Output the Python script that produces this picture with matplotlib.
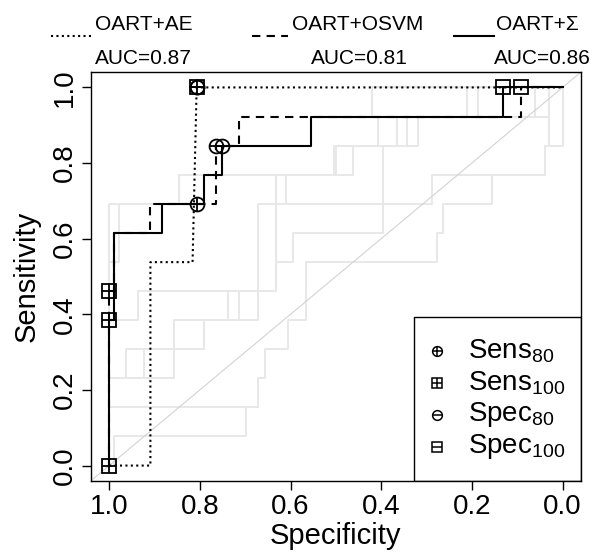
import matplotlib
matplotlib.use('Agg')
from matplotlib import pyplot
from matplotlib.lines import Line2D
from matplotlib.patches import Rectangle

pyplot.rcParams['font.family'] = ['Liberation Sans', 'DejaVu Sans']
pyplot.rcParams['mathtext.fontset'] = 'custom'
pyplot.rcParams['mathtext.rm'] = 'Liberation Sans'
pyplot.rcParams['mathtext.it'] = 'Liberation Sans'
pyplot.rcParams['mathtext.bf'] = 'Liberation Sans'

# ROC step curves (specificity, sensitivity)
ae_spec = [1.0, 0.909, 0.909, 0.816, 0.807, 0.0]
ae_sens = [0.0, 0.0, 0.538, 0.538, 1.0, 1.0]

osvm_spec = [1.0, 1.0, 0.989, 0.989, 0.909, 0.909, 0.764, 0.764, 0.713, 0.713, 0.092, 0.092, 0.0]
osvm_sens = [0.0, 0.462, 0.462, 0.615, 0.615, 0.692, 0.692, 0.846, 0.846, 0.923, 0.923, 1.0, 1.0]

sum_spec = [1.0, 1.0, 0.989, 0.989, 0.884, 0.884, 0.790, 0.790, 0.751, 0.751, 0.554, 0.554, 0.132, 0.132, 0.0]
sum_sens = [0.0, 0.385, 0.385, 0.615, 0.615, 0.692, 0.692, 0.769, 0.769, 0.846, 0.846, 0.923, 0.923, 1.0, 1.0]

# light grey background curves
grey_spec = [
    [1.0, 0.989, 0.989, 0.698, 0.698, 0.672, 0.672, 0.657, 0.657, 0.606, 0.606, 0.565, 0.565,
     0.565, 0.278, 0.278, 0.263, 0.263, 0.156, 0.156, 0.038, 0.038, 0.031, 0.031, 0.0],
    [1.0, 1.0, 0.963, 0.963, 0.790, 0.790, 0.672, 0.672, 0.631, 0.631, 0.499, 0.499, 0.407, 0.407,
     0.211, 0.211, 0.0],
    [1.0, 1.0, 0.937, 0.937, 0.631, 0.631, 0.595, 0.595, 0.396, 0.396, 0.366, 0.366, 0.031, 0.031, 0.0],
    [1.0, 1.0, 0.856, 0.856, 0.738, 0.738, 0.672, 0.672, 0.609, 0.609, 0.462, 0.462, 0.343, 0.343,
     0.186, 0.186, 0.0],
    [1.0, 1.0, 0.923, 0.923, 0.790, 0.790, 0.713, 0.713, 0.631, 0.631, 0.289, 0.289, 0.038, 0.038,
     0.0, 0.0],
    [1.0, 1.0, 0.978, 0.978, 0.845, 0.845, 0.503, 0.503, 0.318, 0.318, 0.060, 0.060, 0.0],
    [1.0, 1.0, 0.845, 0.845, 0.751, 0.751, 0.554, 0.554, 0.421, 0.421, 0.0],
    [1.0, 1.0, 0.672, 0.672],
]
grey_sens = [
    [0.0, 0.0, 0.077, 0.077, 0.154, 0.154, 0.231, 0.231, 0.308, 0.308, 0.385, 0.385, 0.462,
     0.538, 0.538, 0.615, 0.615, 0.692, 0.692, 0.769, 0.769, 0.846, 0.846, 1.0, 1.0],
    [0.0, 0.231, 0.231, 0.308, 0.308, 0.385, 0.385, 0.692, 0.692, 0.769, 0.769, 0.846, 0.846, 0.923,
     0.923, 1.0, 1.0],
    [0.0, 0.385, 0.385, 0.462, 0.462, 0.538, 0.538, 0.615, 0.615, 0.846, 0.846, 0.923, 0.923, 1.0, 1.0],
    [0.0, 0.231, 0.231, 0.385, 0.385, 0.462, 0.462, 0.692, 0.692, 0.769, 0.769, 0.846, 0.846, 0.923,
     0.923, 1.0, 1.0],
    [0.0, 0.231, 0.231, 0.308, 0.308, 0.385, 0.385, 0.462, 0.462, 0.692, 0.692, 0.769, 0.769, 0.846,
     0.846, 1.0],
    [0.0, 0.538, 0.538, 0.692, 0.692, 0.769, 0.769, 0.846, 0.846, 0.923, 0.923, 1.0, 1.0],
    [0.0, 0.692, 0.692, 0.769, 0.769, 0.846, 0.846, 0.923, 0.923, 1.0, 1.0],
    [0.0, 0.154, 0.154, 0.231],
]

# threshold markers
sens80_spec = [0.807, 0.807]
sens80_sens = [1.0, 0.692]
sens100_spec = [1.0, 1.0, 1.0]
sens100_sens = [0.0, 0.462, 0.385]
spec80_spec = [0.807, 0.764, 0.751]
spec80_sens = [1.0, 0.846, 0.846]
spec100_spec = [0.807, 0.092, 0.132]
spec100_sens = [1.0, 1.0, 1.0]

names = ['OART+AE', 'OART+OSVM', 'OART+\u03a3']
aucs = ['AUC=0.87', 'AUC=0.81', 'AUC=0.86']
legend_labels = ['Sens$_{80}$', 'Sens$_{100}$', 'Spec$_{80}$', 'Spec$_{100}$']

fig = pyplot.figure(figsize=(5.93, 5.52), dpi=100)
ax = fig.add_axes([91 / 593, 1 - 480.7 / 552, 489.7 / 593, 408.4 / 552])
ax.set_xlim(1.04, -0.04)
ax.set_ylim(-0.04, 1.04)

for gs, gy in zip(grey_spec, grey_sens):
    ax.plot(gs, gy, color='#e8e8e8', lw=1.4, zorder=1)
ax.plot([1.04, -0.04], [-0.04, 1.04], color='#d3d3d3', lw=0.8, zorder=1)

ax.plot(ae_spec, ae_sens, color='black', lw=1.5, linestyle=(0, (1, 1.6)), zorder=3)
ax.plot(osvm_spec, osvm_sens, color='black', lw=1.5, linestyle=(0, (4, 3)), zorder=3)
ax.plot(sum_spec, sum_sens, color='black', lw=1.5, zorder=3)

mk = dict(color='black', linestyle='none', markersize=10, mew=1.3, mfc='none', zorder=4)
ax.plot(sens80_spec, sens80_sens, marker='o', **mk)
ax.plot(sens80_spec, sens80_sens, marker='+', **mk)
ax.plot(sens100_spec, sens100_sens, marker='s', **mk)
ax.plot(sens100_spec, sens100_sens, marker='+', **mk)
ax.plot(spec80_spec, spec80_sens, marker='o', **mk)
ax.plot(spec80_spec, spec80_sens, marker='_', **mk)
ax.plot(spec100_spec, spec100_sens, marker='s', **mk)
ax.plot(spec100_spec, spec100_sens, marker='_', **mk)

ticks = [1.0, 0.8, 0.6, 0.4, 0.2, 0.0]
ax.set_xticks(ticks)
ax.set_xticklabels([f'{t:.1f}' for t in ticks], fontsize=20)
ax.set_yticks(ticks)
ax.set_yticklabels([f'{t:.1f}' for t in ticks], fontsize=20, rotation=90, va='center')
ax.tick_params(length=6.3, width=1.0, pad=3)
for s in ax.spines.values():
    s.set_linewidth(1.0)
ax.set_xlabel('Specificity', fontsize=21, labelpad=2)
ax.set_ylabel('Sensitivity', fontsize=21, labelpad=8)

# legend box bottom right
ax.add_patch(Rectangle((0.6596, 0.0), 0.3404, 0.400, transform=ax.transAxes,
                       fill=False, ec='black', lw=1.0, zorder=5))
leg_y = [0.318, 0.239, 0.161, 0.083]
leg_marks = [('o', '+'), ('s', '+'), ('o', '_'), ('s', '_')]
for yy, (m1, m2), lab in zip(leg_y, leg_marks, legend_labels):
    for m in (m1, m2):
        ax.plot([0.7066], [yy], transform=ax.transAxes, marker=m, color='black',
                markersize=7, mew=1.1, mfc='none', linestyle='none', zorder=6, clip_on=False)
    ax.text(0.770, yy, lab, transform=ax.transAxes, fontsize=20, va='center', ha='left', zorder=6)

# legend on top
styles = [(0, (1, 1.6)), (0, (4, 3)), '-']
line_x = [(51, 91), (252, 288), (454, 494)]
name_x = [95, 292, 496]
auc_x = [95, 311, 494]
for st, (x0, x1), nx, axx, nm, au in zip(styles, line_x, name_x, auc_x, names, aucs):
    fig.add_artist(Line2D([x0 / 593, x1 / 593], [1 - 36 / 552, 1 - 36 / 552],
                          color='black', lw=1.5, linestyle=st))
    fig.text(nx / 593, 1 - 30 / 552, nm, fontsize=15, ha='left', va='baseline')
    fig.text(axx / 593, 1 - 64 / 552, au, fontsize=15, ha='left', va='baseline')

pyplot.savefig('out.png')
